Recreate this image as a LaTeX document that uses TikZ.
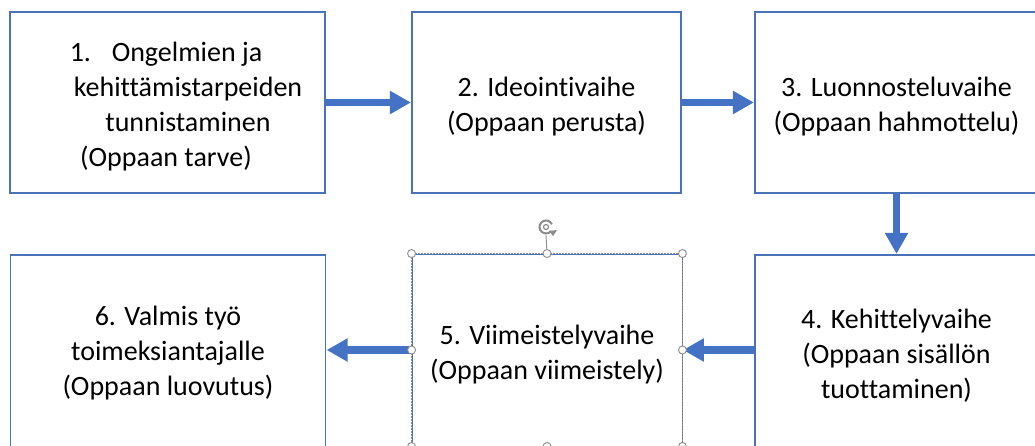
\documentclass[tikz,border=0pt]{standalone}
\usepackage{fontspec}
\setmainfont{Carlito}[Ligatures={NoCommon}]
\usetikzlibrary{arrows.meta,calc}
\definecolor{officeblue}{HTML}{4472C4}
\definecolor{boxblue}{HTML}{4A72B8}
\definecolor{handlegray}{HTML}{8C8C8C}
\tikzset{
  stepbox/.style={draw=boxblue, line width=1.2pt, fill=white, inner sep=0pt},
  steptext/.style={align=center, font=\fontsize{28}{35}\selectfont, text=black},
  flowarrow/.style={draw=officeblue, line width=7.5pt, -{Triangle[length=21pt,width=22pt]}, shorten >=0.5pt},
  handle/.style={circle, draw=handlegray, fill=white, line width=0.9pt, minimum size=8pt, inner sep=0pt},
}
\begin{document}
\begin{tikzpicture}[x=1pt,y=-1pt]
\useasboundingbox (0,0) rectangle (1035,446);
\fill[white] (0,0) rectangle (1035,446);
% boxes
\node[stepbox, minimum width=315pt, minimum height=181pt] (b1) at (167.5,102.5) {};
\node[stepbox, minimum width=269pt, minimum height=181pt] (b2) at (546.5,102.5) {};
\node[stepbox, minimum width=283pt, minimum height=181pt] (b3) at (896.5,102.5) {};
\node[stepbox, minimum width=283pt, minimum height=192pt] (b4) at (896.5,351) {};
\node[stepbox, minimum width=270pt, minimum height=192pt, draw=boxblue, line width=0.9pt] (b5) at (547,350) {};
\node[stepbox, minimum width=315pt, minimum height=192pt] (b6) at (168,351) {};
% texts
\node[steptext] (t1) at (166,107) {\makebox[42pt][l]{1.}Ongelmien ja\\\hspace*{44pt}kehittämistarpeiden\\\hspace*{44pt}tunnistaminen\\(Oppaan tarve)};
\node[steptext] (t2) at (546.5,107) {2. Ideointivaihe\\(Oppaan perusta)};
\node[steptext] (t3) at (896.5,107) {3. Luonnosteluvaihe\\(Oppaan hahmottelu)};
\node[steptext] (t4) at (896.5,356) {4. Kehittelyvaihe\\(Oppaan sisällön\\tuottaminen)};
\node[steptext] (t5) at (547,355) {5. Viimeistelyvaihe\\(Oppaan viimeistely)};
\node[steptext] (t6) at (168,353) {6. Valmis työ\\toimeksiantajalle\\(Oppaan luovutus)};
% selection frame overlay on box 5
\draw[handlegray, line width=0.5pt, densely dotted] (b5.north west) rectangle (b5.south east);
% connectors
\draw[flowarrow] (b1.east) -- (b2.west);
\draw[flowarrow] (b2.east) -- (b3.west);
\draw[flowarrow] (b3.south) -- (b4.north);
\draw[flowarrow] (b4.west |- b5.east) -- (b5.east);
\draw[flowarrow] (b5.west) -- (b6.east |- b5.west);
% rotation handle
\coordinate (rot) at (546,227);
\draw[handlegray, line width=0.9pt] (b5.north) -- (546,235);
\draw[handlegray, line width=2pt] (rot) ++(25:6.5pt) arc[start angle=25, end angle=320, radius=6.5pt];
\draw[handlegray, line width=1.2pt] (rot) circle[radius=2.5pt];
\fill[handlegray] ($(rot)+(3pt,-4pt)$) -- ++(8pt,1pt) -- ++(-4pt,-6pt) -- cycle;
% sizing handles
\foreach \a in {north west,north,north east,west,east,south west,south,south east}
  \node[handle] at (b5.\a) {};
\end{tikzpicture}
\end{document}
